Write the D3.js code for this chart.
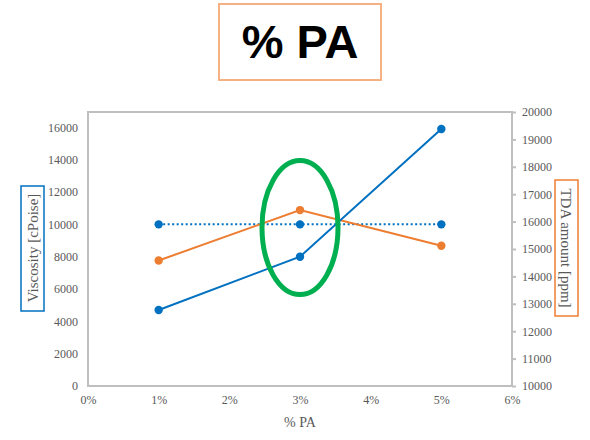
<!DOCTYPE html>
<html><head><meta charset="utf-8">
<script src="https://cdn.jsdelivr.net/npm/d3@7"></script>
<style>body{margin:0;background:#fff}svg{display:block}</style>
</head><body>
<svg id="c" width="590" height="440"></svg>
<script>
const categories = [1, 3, 5];              // % PA
const viscosity = [4700, 8000, 15900];     // cPoise (left axis)
const viscosityRef = [10000, 10000, 10000];// dotted reference (left axis)
const tda = [14580, 16420, 15120];         // ppm (right axis)
const xTicks = [0, 1, 2, 3, 4, 5, 6];
const leftTicks = [0, 2000, 4000, 6000, 8000, 10000, 12000, 14000, 16000];
const rightTicks = [10000, 11000, 12000, 13000, 14000, 15000, 16000, 17000, 18000, 19000, 20000];

const svg = d3.select("#c");
const L = 88, R = 512, T = 112, B = 386;
const x = d3.scaleLinear().domain([0, 6]).range([L, R]);
const yL = d3.scaleLinear().domain([0, 16950]).range([B, T]);
const yR = d3.scaleLinear().domain([10000, 20000]).range([B, T]);
const serif = "'Liberation Serif','Times New Roman',serif";
const grey = "#595959";

// title box
svg.append("rect").attr("x", 219).attr("y", 4).attr("width", 162).attr("height", 76)
  .attr("fill", "#fff").attr("stroke", "#f4b183").attr("stroke-width", 2);
svg.append("text").attr("x", 300).attr("y", 58).attr("text-anchor", "middle")
  .attr("font-family", "'Liberation Sans',Arial,sans-serif").attr("font-weight", "bold")
  .attr("font-size", 47).attr("fill", "#000").text("% PA");

// plot frame
svg.append("rect").attr("x", L).attr("y", T).attr("width", R - L).attr("height", B - T)
  .attr("fill", "none").attr("stroke", "#bfbfbf").attr("stroke-width", 2);

// left axis
const gL = svg.append("g").attr("transform", `translate(${L},0)`)
  .call(d3.axisLeft(yL).tickValues(leftTicks).tickSize(0).tickPadding(10).tickFormat(d3.format("d")));
gL.attr("font-family", serif).attr("font-size", 12);
gL.select(".domain").remove();
gL.selectAll("text").attr("fill", grey);

// right axis
const gR = svg.append("g").attr("transform", `translate(${R},0)`)
  .call(d3.axisRight(yR).tickValues(rightTicks).tickSize(4).tickPadding(6).tickFormat(d3.format("d")));
gR.attr("font-family", serif).attr("font-size", 12);
gR.select(".domain").remove();
gR.selectAll("line").attr("stroke", "#bfbfbf").attr("stroke-width", 2);
gR.selectAll("text").attr("fill", grey);

// bottom axis
const gB = svg.append("g").attr("transform", `translate(0,${B})`)
  .call(d3.axisBottom(x).tickValues(xTicks).tickSize(0).tickPadding(9).tickFormat(d => d + "%"));
gB.attr("font-family", serif).attr("font-size", 12);
gB.select(".domain").remove();
gB.selectAll("text").attr("fill", grey);

// axis titles
svg.append("text").attr("x", 300).attr("y", 427).attr("text-anchor", "middle")
  .attr("font-family", serif).attr("font-size", 14).attr("fill", grey).text("% PA");

svg.append("text").attr("transform", "translate(38,248) rotate(-90)")
  .attr("text-anchor", "middle").attr("font-family", serif).attr("font-size", 15)
  .attr("fill", grey).text("Viscosity [cPoise]");
svg.append("rect").attr("x", 21).attr("y", 186).attr("width", 23).attr("height", 125)
  .attr("fill", "none").attr("stroke", "#0070c0").attr("stroke-width", 1.5);

svg.append("text").attr("transform", "translate(561,248) rotate(90)")
  .attr("text-anchor", "middle").attr("font-family", serif).attr("font-size", 15)
  .attr("fill", grey).text("TDA amount [ppm]");
svg.append("rect").attr("x", 555).attr("y", 180).attr("width", 23).attr("height", 136)
  .attr("fill", "none").attr("stroke", "#ed7d31").attr("stroke-width", 1.5);

// series
function series(vals, scale, color, dash) {
  const pts = categories.map((c, i) => [x(c), scale(vals[i])]);
  svg.append("path").attr("d", d3.line()(pts)).attr("fill", "none")
    .attr("stroke", color).attr("stroke-width", 2).attr("stroke-dasharray", dash || null);
  svg.selectAll(null).data(pts).enter().append("circle")
    .attr("cx", d => d[0]).attr("cy", d => d[1]).attr("r", 4.2).attr("fill", color);
}
series(viscosityRef, yL, "#0070c0", "2,2.5");
series(tda, yR, "#ed7d31");
series(viscosity, yL, "#0070c0");

// green annotation ellipse around 3%
svg.append("ellipse").attr("cx", x(3)).attr("cy", yL(9800)).attr("rx", 38).attr("ry", 67)
  .attr("fill", "none").attr("stroke", "#00b050").attr("stroke-width", 5);
</script>
</body></html>
